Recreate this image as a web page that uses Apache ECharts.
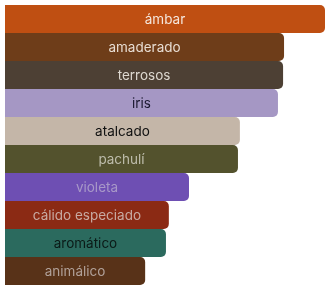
<!DOCTYPE html>
<html>
<head>
<meta charset="utf-8">
<script src="https://cdn.jsdelivr.net/npm/echarts@6/dist/echarts.min.js"></script>
<style>
  html, body { margin: 0; padding: 0; background: #fff; }
  #chart { width: 327px; height: 288px; }
</style>
</head>
<body>
<div id="chart"></div>
<script>
// notas de fragancia
const categories = ['ámbar', 'amaderado', 'terrosos', 'iris', 'atalcado', 'pachulí', 'violeta', 'cálido especiado', 'aromático', 'animálico']
const values = [100, 87.2, 86.9, 85.3, 73.4, 72.8, 57.5, 51.2, 50.3, 43.8]
const barColors = ['#bf4f12', '#6e3d19', '#4d4034', '#a597c4', '#c4b6a8', '#53522d', '#6e4fb3', '#8b2a14', '#2b6a5e', '#583218']
const labelColors = ['#f5e6dc', '#e8ddd2', '#ddd8d0', '#1b1830', '#111111', '#bdbcab', '#a898c8', '#c8aaa2', '#0b1a17', '#b0a098']

const myChart = echarts.init(document.getElementById('chart'))
const option = {
  animation: false,
  grid: {
    left: 5,
    top: 5,
    width: 320,
    height: 280
  },
  xAxis: {
    type: 'value',
    min: 0,
    max: 100,
    show: false
  },
  yAxis: {
    type: 'category',
    data: categories,
    inverse: true,
    show: false
  },
  series: [
    {
      type: 'bar',
      barCategoryGap: 0,
      data: values.map((v, i) => ({
        value: v,
        itemStyle: { color: barColors[i] },
        label: { color: labelColors[i] }
      })),
      itemStyle: {
        borderRadius: [0, 5, 5, 0]
      },
      label: {
        show: true,
        position: 'inside',
        offset: [0, 1],
        formatter: p => categories[p.dataIndex],
        fontSize: 13.5,
        fontFamily: 'Inter, sans-serif'
      }
    }
  ]
}
myChart.setOption(option)
</script>
</body>
</html>
